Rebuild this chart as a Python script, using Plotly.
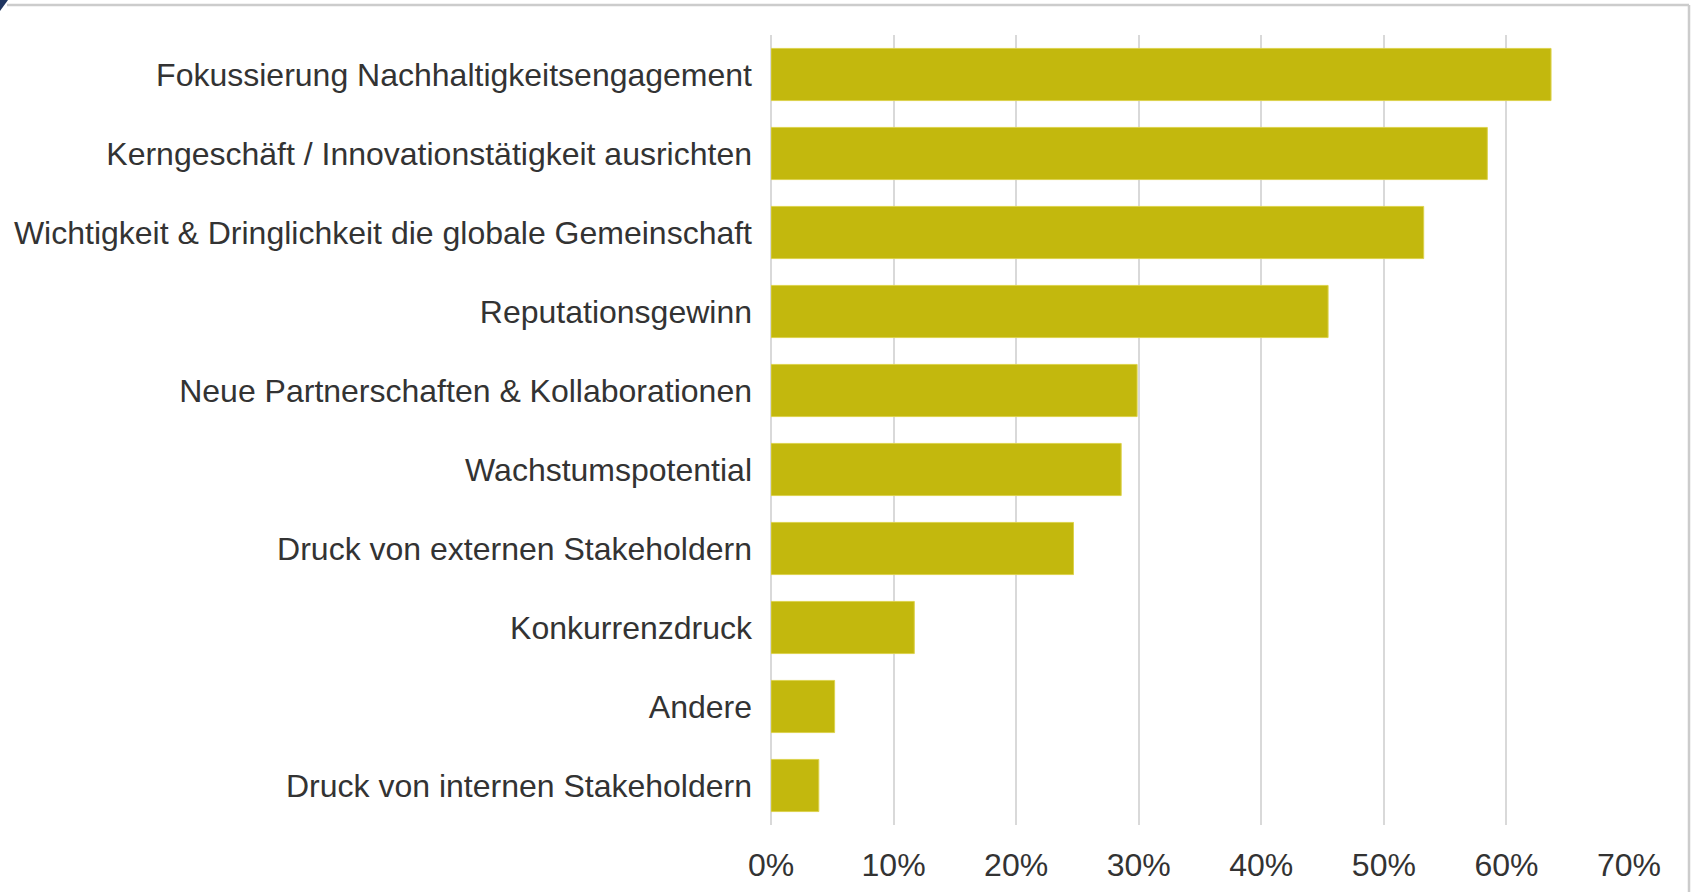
import plotly.graph_objects as go


# Chart data
##################################

categories = [
    "Fokussierung Nachhaltigkeitsengagement",
    "Kerngeschäft / Innovationstätigkeit ausrichten",
    "Wichtigkeit & Dringlichkeit die globale Gemeinschaft",
    "Reputationsgewinn",
    "Neue Partnerschaften & Kollaborationen",
    "Wachstumspotential",
    "Druck von externen Stakeholdern",
    "Konkurrenzdruck",
    "Andere",
    "Druck von internen Stakeholdern",
]
shares = [63.64, 58.44, 53.25, 45.45, 29.87, 28.57, 24.68, 11.69, 5.19, 3.90]
tick_values = [0, 10, 20, 30, 40, 50, 60, 70]
tick_labels = ["0%", "10%", "20%", "30%", "40%", "50%", "60%", "70%"]


# Layout helpers
##################################

W, H = 1692, 892
MARGIN = dict(l=771, r=63, t=35, b=67)


def px_x(x):
    """ pixel -> paper x """
    return (x - MARGIN["l"]) / (W - MARGIN["l"] - MARGIN["r"])


def px_y(y):
    """ pixel -> paper y """
    return 1 - (y - MARGIN["t"]) / (H - MARGIN["t"] - MARGIN["b"])


def frame_shapes():
    """ Light gray frame on top / right plus the small navy corner mark. """
    line = dict(color="#cccccc", width=2.5)
    return [
        dict(type="line", xref="paper", yref="paper",
             x0=px_x(7), x1=px_x(1689), y0=px_y(5), y1=px_y(5), line=line),
        dict(type="line", xref="paper", yref="paper",
             x0=px_x(1689), x1=px_x(1689), y0=px_y(5), y1=px_y(H), line=line),
        dict(type="path", xref="paper", yref="paper",
             path=f"M {px_x(0)} {px_y(0)} L {px_x(8)} {px_y(0)} L {px_x(0)} {px_y(11)} Z",
             fillcolor="#1f3560", line=dict(width=0)),
    ]


# Build figure
##################################

fig = go.Figure(
    go.Bar(
        x=shares,
        y=categories,
        orientation="h",
        marker=dict(color="#c3b80d", line=dict(color="#dcd24c", width=1)),
        hovertemplate="%{y}: %{x:.1f}%<extra></extra>",
    )
)

fig.update_layout(
    width=W,
    height=H,
    margin=MARGIN,
    paper_bgcolor="white",
    plot_bgcolor="white",
    bargap=0.34,
    showlegend=False,
    font=dict(family="Liberation Sans, Arial, sans-serif", size=32, color="#333333"),
    shapes=frame_shapes(),
)

fig.update_xaxes(
    range=[0, 70],
    tickvals=tick_values,
    ticktext=tick_labels,
    showgrid=True,
    gridcolor="#d9d9d9",
    gridwidth=1.5,
    zeroline=True,
    zerolinecolor="#d9d9d9",
    zerolinewidth=1.5,
    showline=False,
    ticks="",
    ticklabelstandoff=18,
    automargin=False,
)
fig.update_yaxes(
    categoryorder="array",
    categoryarray=categories,
    autorange="reversed",
    showgrid=False,
    showline=False,
    ticks="",
    ticklabelstandoff=18,
    automargin=False,
)

# drop the default page margin so the figure sits at the window's corner
fig.write_html(
    "out.html",
    config={"displayModeBar": False},
    post_script="document.body.style.margin='0';",
)
